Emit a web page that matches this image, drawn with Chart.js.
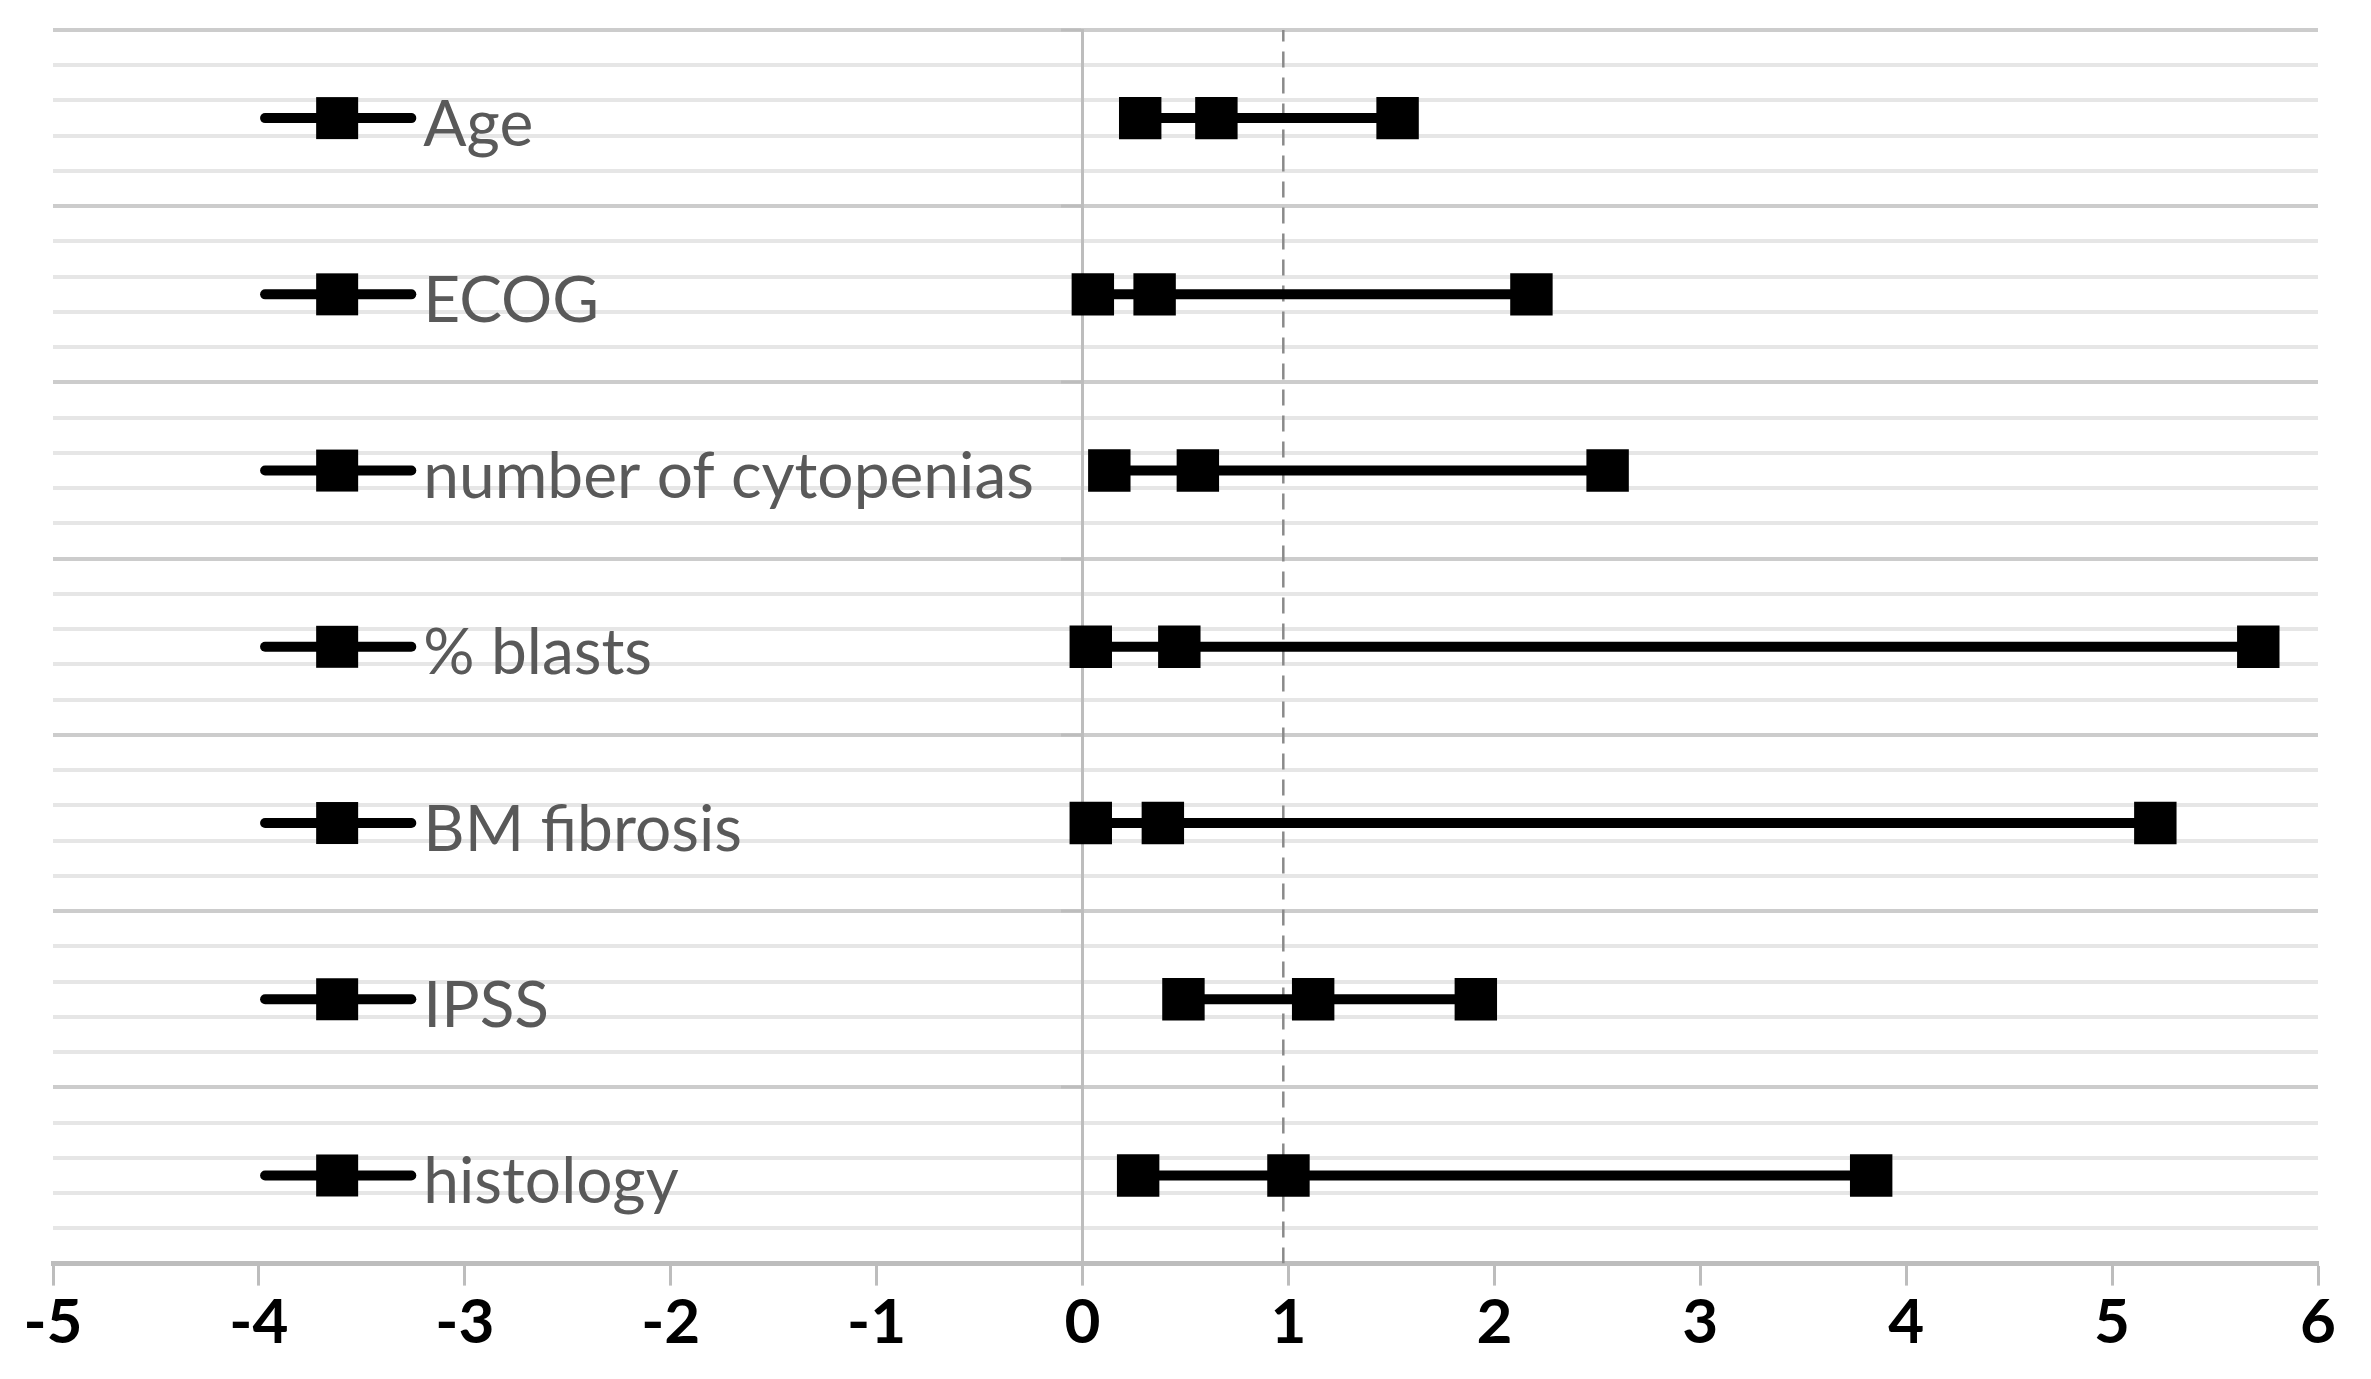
<!DOCTYPE html>
<html>
<head>
<meta charset="utf-8">
<title>Forest plot</title>
<script src="https://cdn.jsdelivr.net/npm/chart.js@4.4.1/dist/chart.umd.min.js"></script>
<style>
    html, body { margin: 0; padding: 0; background: #fff; }
    #wrap { width: 2371px; height: 1379px; }
</style>
</head>
<body>
<div id="wrap"><canvas id="forestChart"></canvas></div>
<script>
// rows, top to bottom
const rowLabels = ['Age', 'ECOG', 'number of cytopenias', '% blasts', 'BM fibrosis', 'IPSS', 'histology'];
const rowPositions = [6.5, 5.5, 4.5, 3.5, 2.5, 1.5, 0.5];

// values
const lowerCI = [0.28, 0.05, 0.13, 0.04, 0.04, 0.49, 0.27];
const estimate = [0.65, 0.35, 0.56, 0.47, 0.39, 1.12, 1.00];
const upperCI = [1.53, 2.18, 2.55, 5.71, 5.21, 1.91, 3.83];
const referenceValue = 0.975;

const xRange = [-5, 6];
const yRange = [0, 7];

// where the little key (line + square) sits in each row, in x axis units
const keyFrom = -3.97;
const keyTo = -3.26;
const keyMarkAt = -3.62;

function isMajor(v) {
    return Math.abs(v - Math.round(v)) < 1e-6;
}

const datasets = rowLabels.map(function (label, i) {
    const y = rowPositions[i];
    return {
        label: label,
        data: [
            { x: lowerCI[i], y: y },
            { x: estimate[i], y: y },
            { x: upperCI[i], y: y }
        ],
        showLine: true,
        borderColor: '#000',
        borderWidth: 10,
        pointStyle: 'rect',
        pointRadius: 30,
        pointHoverRadius: 30,
        pointBackgroundColor: '#000',
        pointBorderWidth: 0,
        order: 0
    };
});

datasets.push({
    label: 'reference',
    data: [{ x: referenceValue, y: yRange[0] }, { x: referenceValue, y: yRange[1] }],
    showLine: true,
    borderColor: '#8a8a8a',
    borderWidth: 2.5,
    borderDash: [16, 10],
    pointRadius: 0,
    order: 1
});

const rowKeys = {
    id: 'rowKeys',
    afterDatasetsDraw: function (chart) {
        const ctx = chart.ctx;
        const xs = chart.scales.x;
        const ys = chart.scales.y;
        ctx.save();
        rowLabels.forEach(function (label, i) {
            const y = ys.getPixelForValue(rowPositions[i]);
            const x1 = xs.getPixelForValue(keyFrom);
            const x2 = xs.getPixelForValue(keyTo);
            const xm = xs.getPixelForValue(keyMarkAt);
            ctx.strokeStyle = '#000';
            ctx.lineWidth = 10;
            ctx.lineCap = 'round';
            ctx.beginPath();
            ctx.moveTo(x1, y);
            ctx.lineTo(x2, y);
            ctx.stroke();
            ctx.fillStyle = '#000';
            ctx.fillRect(xm - 21, y - 21, 42, 42);
            ctx.fillStyle = '#595959';
            ctx.font = '64px Lato, "Liberation Sans", sans-serif';
            ctx.textAlign = 'left';
            ctx.textBaseline = 'middle';
            ctx.fillText(label, x2 + 12, y + 7);
        });
        ctx.restore();
    }
};

const ctx = document.getElementById('forestChart').getContext('2d');
window.forestChart = new Chart(ctx, {
    type: 'scatter',
    data: { datasets: datasets },
    plugins: [rowKeys],
    options: {
        responsive: true,
        maintainAspectRatio: false,
        animation: false,
        layout: {
            padding: { top: 27, left: 53, right: 53, bottom: 19 }
        },
        plugins: {
            legend: { display: false },
            tooltip: { enabled: false }
        },
        scales: {
            x: {
                type: 'linear',
                min: xRange[0],
                max: xRange[1],
                ticks: {
                    stepSize: 1,
                    color: '#000',
                    padding: 0,
                    font: { family: 'Lato, "Liberation Sans", sans-serif', weight: 'bold', size: 62 }
                },
                grid: {
                    drawOnChartArea: false,
                    drawTicks: true,
                    tickLength: 22,
                    tickColor: '#bdbdbd',
                    tickWidth: 3
                },
                border: { color: '#bdbdbd', width: 5 }
            },
            y: {
                type: 'linear',
                min: yRange[0],
                max: yRange[1],
                position: { x: 0 },
                ticks: { stepSize: 0.2, display: false },
                grid: {
                    color: function (c) { return isMajor(c.tick.value) ? '#cccccc' : '#e6e6e6'; },
                    lineWidth: 4,
                    drawTicks: true,
                    tickLength: 20,
                    tickColor: function (c) { return isMajor(c.tick.value) ? '#bdbdbd' : 'rgba(0,0,0,0)'; },
                    tickWidth: 3
                },
                border: { color: '#bdbdbd', width: 3 }
            }
        }
    }
});
</script>
</body>
</html>
